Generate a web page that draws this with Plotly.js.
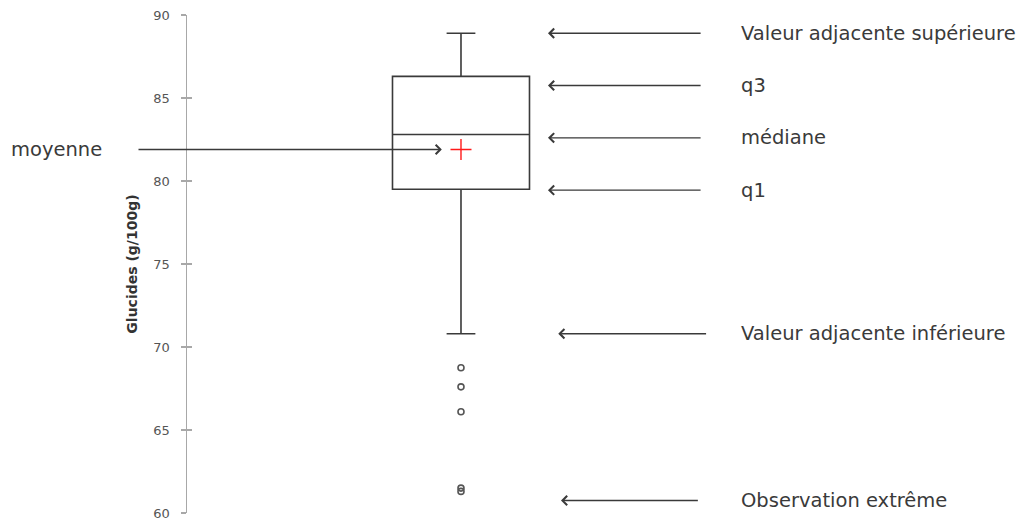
<!DOCTYPE html>
<html>
<head>
<meta charset="utf-8">
<script src="https://cdn.plot.ly/plotly-3.0.1.min.js"></script>
<style>
  html, body { margin: 0; padding: 0; background: #fff; }
  #chart { width: 1025px; height: 529px; }
</style>
</head>
<body>
<div id="chart"></div>
<script>
// statistiques de la boîte (Glucides g/100g)
const q1 = 79.5;
const median = 82.8;
const q3 = 86.3;
const lowerFence = 70.8;
const upperFence = 88.9;
const mean = 81.9;
const outliers = [68.75, 67.6, 66.1, 61.5, 61.3];
const yTicks = [60, 65, 70, 75, 80, 85, 90];

const INK = '#3a3a3a';
const FONT = 'DejaVu Sans, sans-serif';
const AXFONT = 'DejaVu Sans, Verdana, sans-serif';

const boxTrace = {
    type: 'box',
    x: [0],
    q1: [q1], median: [median], q3: [q3],
    lowerfence: [lowerFence], upperfence: [upperFence],
    width: 1,
    whiskerwidth: 0.21,
    boxpoints: false,
    fillcolor: 'rgba(0,0,0,0)',
    line: { color: INK, width: 1.6 },
    hoverinfo: 'skip'
};

const outlierTrace = {
    type: 'scatter', mode: 'markers',
    x: outliers.map(() => 0), y: outliers,
    marker: { symbol: 'circle-open', size: 6, color: '#555', line: { width: 1.6, color: '#555' } },
    hoverinfo: 'skip'
};

const meanTrace = {
    type: 'scatter', mode: 'markers',
    x: [0], y: [mean],
    yaxis: 'y2',
    marker: { symbol: 'cross-thin-open', size: 15, color: '#ff1a1a', line: { width: 1.4, color: '#ff1a1a' } },
    hoverinfo: 'skip'
};

// flèches + libellés à droite : [y flèche, libellé, x pointe, x queue]
const rightLabels = [
    [upperFence, 'Valeur adjacente supérieure', 0.635, 1.76],
    [85.75, 'q3', 0.635, 1.76],
    [82.6, 'médiane', 0.635, 1.76],
    [q1 - 0.05, 'q1', 0.635, 1.76],
    [lowerFence, 'Valeur adjacente inférieure', 0.71, 1.8],
    [60.75, 'Observation extrême', 0.73, 1.74]
];

const annotations = [];
rightLabels.forEach(([y, label, xHead, xTail]) => {
    annotations.push({
        x: xHead, y: y, ax: xTail, ay: y, axref: 'x', ayref: 'y',
        text: '', showarrow: true, arrowhead: 4, arrowsize: 1.3, arrowwidth: 1.4, arrowcolor: INK
    });
    annotations.push({
        x: 2.03, y: y, xanchor: 'left', yanchor: 'middle', showarrow: false,
        text: label, font: { family: FONT, size: 19.5, color: INK }
    });
});
// moyenne, flèche de gauche
annotations.push({
    x: -0.14, y: mean, ax: -2.365, ay: mean, axref: 'x', ayref: 'y',
    text: '', showarrow: true, arrowhead: 4, arrowsize: 1.3, arrowwidth: 1.4, arrowcolor: INK
});
annotations.push({
    xref: 'paper', x: -0.2125, y: mean, xanchor: 'left', yanchor: 'middle', showarrow: false,
    text: 'moyenne', font: { family: FONT, size: 19.5, color: INK }
});

const yRange = [60, 90];

const layout = {
    width: 1025, height: 529,
    margin: { l: 187, r: 0, t: 15, b: 16 },
    paper_bgcolor: '#fff', plot_bgcolor: 'rgba(0,0,0,0)',
    showlegend: false,
    xaxis: { range: [-2, 4.117], visible: false, fixedrange: true },
    yaxis: {
        range: yRange, tickvals: yTicks, ticks: 'outside', ticklen: 5, tickwidth: 1.3, tickcolor: '#a8a8a8',
        showline: true, linecolor: '#a8a8a8', linewidth: 1.5, showgrid: false, zeroline: false,
        ticklabelstandoff: 8,
        tickfont: { family: AXFONT, size: 13, color: '#555' },
        title: { text: '<b>Glucides (g/100g)</b>', standoff: 12, font: { family: AXFONT, size: 14, color: '#333' } }
    },
    yaxis2: {
        overlaying: 'y', side: 'left', anchor: 'x', range: yRange, tickvals: yTicks,
        ticks: 'inside', ticklen: 5, tickwidth: 1.3, tickcolor: '#a8a8a8',
        showticklabels: false, showgrid: false, zeroline: false, showline: false
    },
    annotations: annotations
};

Plotly.newPlot('chart', [boxTrace, outlierTrace, meanTrace], layout, { displayModeBar: false, staticPlot: true });
</script>
</body>
</html>
